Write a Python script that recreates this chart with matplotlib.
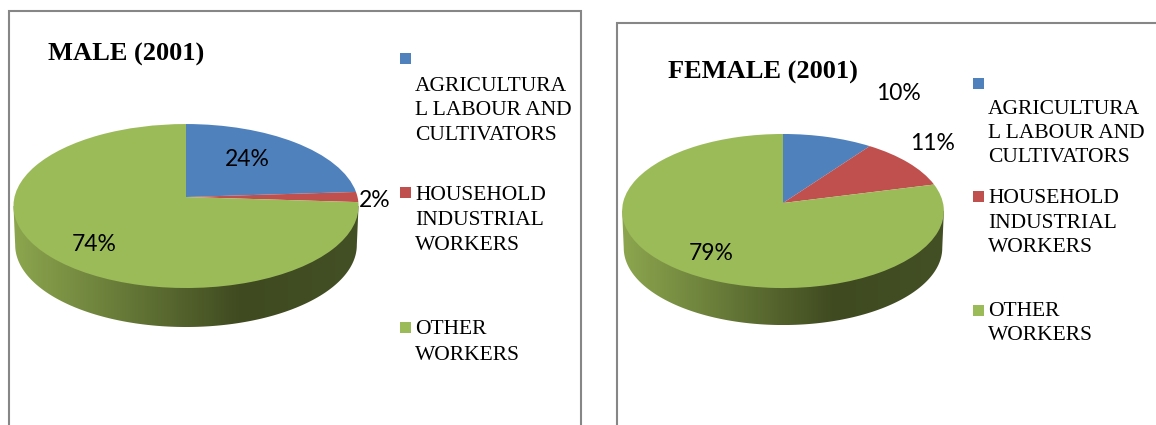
import matplotlib
matplotlib.use('Agg')
import matplotlib.pyplot as plt
import numpy as np
from matplotlib.colors import LinearSegmentedColormap
from matplotlib.patches import Polygon, Rectangle
from matplotlib.transforms import Transform

# chart data
legend_labels = [
    ['AGRICULTURA', 'L LABOUR AND', 'CULTIVATORS'],
    ['HOUSEHOLD', 'INDUSTRIAL', 'WORKERS'],
    ['OTHER', 'WORKERS'],
]
male_values = [24, 2, 74]
female_values = [10, 11, 79]
male_title = 'MALE (2001)'
female_title = 'FEMALE (2001)'

colors = ['#4f81bd', '#c0504d', '#9bbb59']
side_cmap = LinearSegmentedColormap.from_list(
    'side', [(0, '#8ca64e'), (0.66, '#3f4a20'), (1, '#434f24')])
serif = 'Liberation Serif'
label_font = 'Lato'


# perspective view of the unit circle, gives the tilted pie top
class TiltTransform(Transform):
    input_dims = 2
    output_dims = 2
    is_separable = False
    has_inverse = False

    def __init__(self, cx, cy, a, b, k):
        super().__init__()
        self.cx, self.cy, self.a, self.b, self.k = cx, cy, a, b, k

    def transform_non_affine(self, values):
        x, y = values[:, 0], values[:, 1]
        w = 1 + self.k * y
        return np.column_stack((self.cx + self.a * x / w, self.cy - self.b * y / w))


fig = plt.figure(figsize=(11.56, 4.25), dpi=100)
ax = fig.add_axes([0, 0, 1, 1])


def draw_pie(values, title, cx, cy, a, b, k, depth, title_xy, pct_xy, box, squares, lines):
    tilt = TiltTransform(cx, cy, a, b, k)

    # side of the disc, gradient clipped to the lower rim
    t = np.linspace(0, 2 * np.pi, 361)
    rim = tilt.transform_non_affine(np.column_stack((np.cos(t), np.sin(t))))
    left, right = rim[:, 0].min(), rim[:, 0].max()
    top, bottom = rim[:, 1].min(), rim[:, 1].max()
    mid = (top + bottom) / 2
    half_w, half_h = (right - left) / 2, (bottom - top) / 2
    s = np.linspace(np.pi, 0, 181)
    lower = np.column_stack((cx + half_w * 0.99 * np.cos(s), mid + depth + half_h * np.sin(s)))
    outline = np.vstack(([left, mid], lower, [right, mid]))
    clip = Polygon(outline, closed=True, transform=ax.transData, fc='none', ec='none')
    ax.add_patch(clip)
    im = ax.imshow(np.linspace(0, 1, 256).reshape(1, -1), cmap=side_cmap, aspect='auto',
                   extent=(left, right, bottom + depth, top), zorder=1)
    im.set_clip_path(clip)

    wedges, _ = ax.pie(values, colors=colors, startangle=90, counterclock=False,
                       wedgeprops={'linewidth': 0})
    for w in wedges:
        w.set_transform(tilt + ax.transData)
        w.set_zorder(2)

    ax.plot([box[0], box[0], box[1], box[1]], [425, box[2], box[2], 425],
            color='#868686', lw=1.5, zorder=0, solid_joinstyle='miter')

    ax.text(title_xy[0], title_xy[1], title, family=serif, fontweight='bold', fontsize=19,
            ha='left', va='center', color='black')
    for v, xy in zip(values, pct_xy):
        ax.text(xy[0], xy[1], f'{v}%', family=label_font, fontsize=16.5, ha='center',
                va='center', color='black', zorder=3)

    for color, sq_y, label, ys in zip(colors, squares[1], legend_labels, lines):
        ax.add_patch(Rectangle((squares[0], sq_y), 11, 11, fc=color, ec='none'))
        for text, y in zip(label, ys):
            ax.text(squares[0] + 15, y, text, family=serif, fontsize=15.5, ha='left',
                    va='center', color='black')


draw_pie(male_values, male_title, 186, 197, 171.5, 81, 0.11, 39, (48, 54),
         [(247, 160), (375, 200), (94, 244)], (9, 581, 11),
         (400, [53, 187, 322]),
         [[86, 110, 135], [195, 220, 245], [330, 355]])
draw_pie(female_values, female_title, 783, 203, 160, 76.2, 0.104, 37, (668, 72),
         [(898, 93), (933, 143), (711, 253)], (617, 1170, 23),
         (973, [78, 191, 305]),
         [[109, 134, 158], [198, 223, 247], [312, 336]])

# pie() resets the limits, go back to picture coordinates
ax.set_xlim(0, 1156)
ax.set_ylim(425, 0)
ax.set_aspect('auto')
ax.axis('off')

fig.savefig('out.png', dpi=100)
